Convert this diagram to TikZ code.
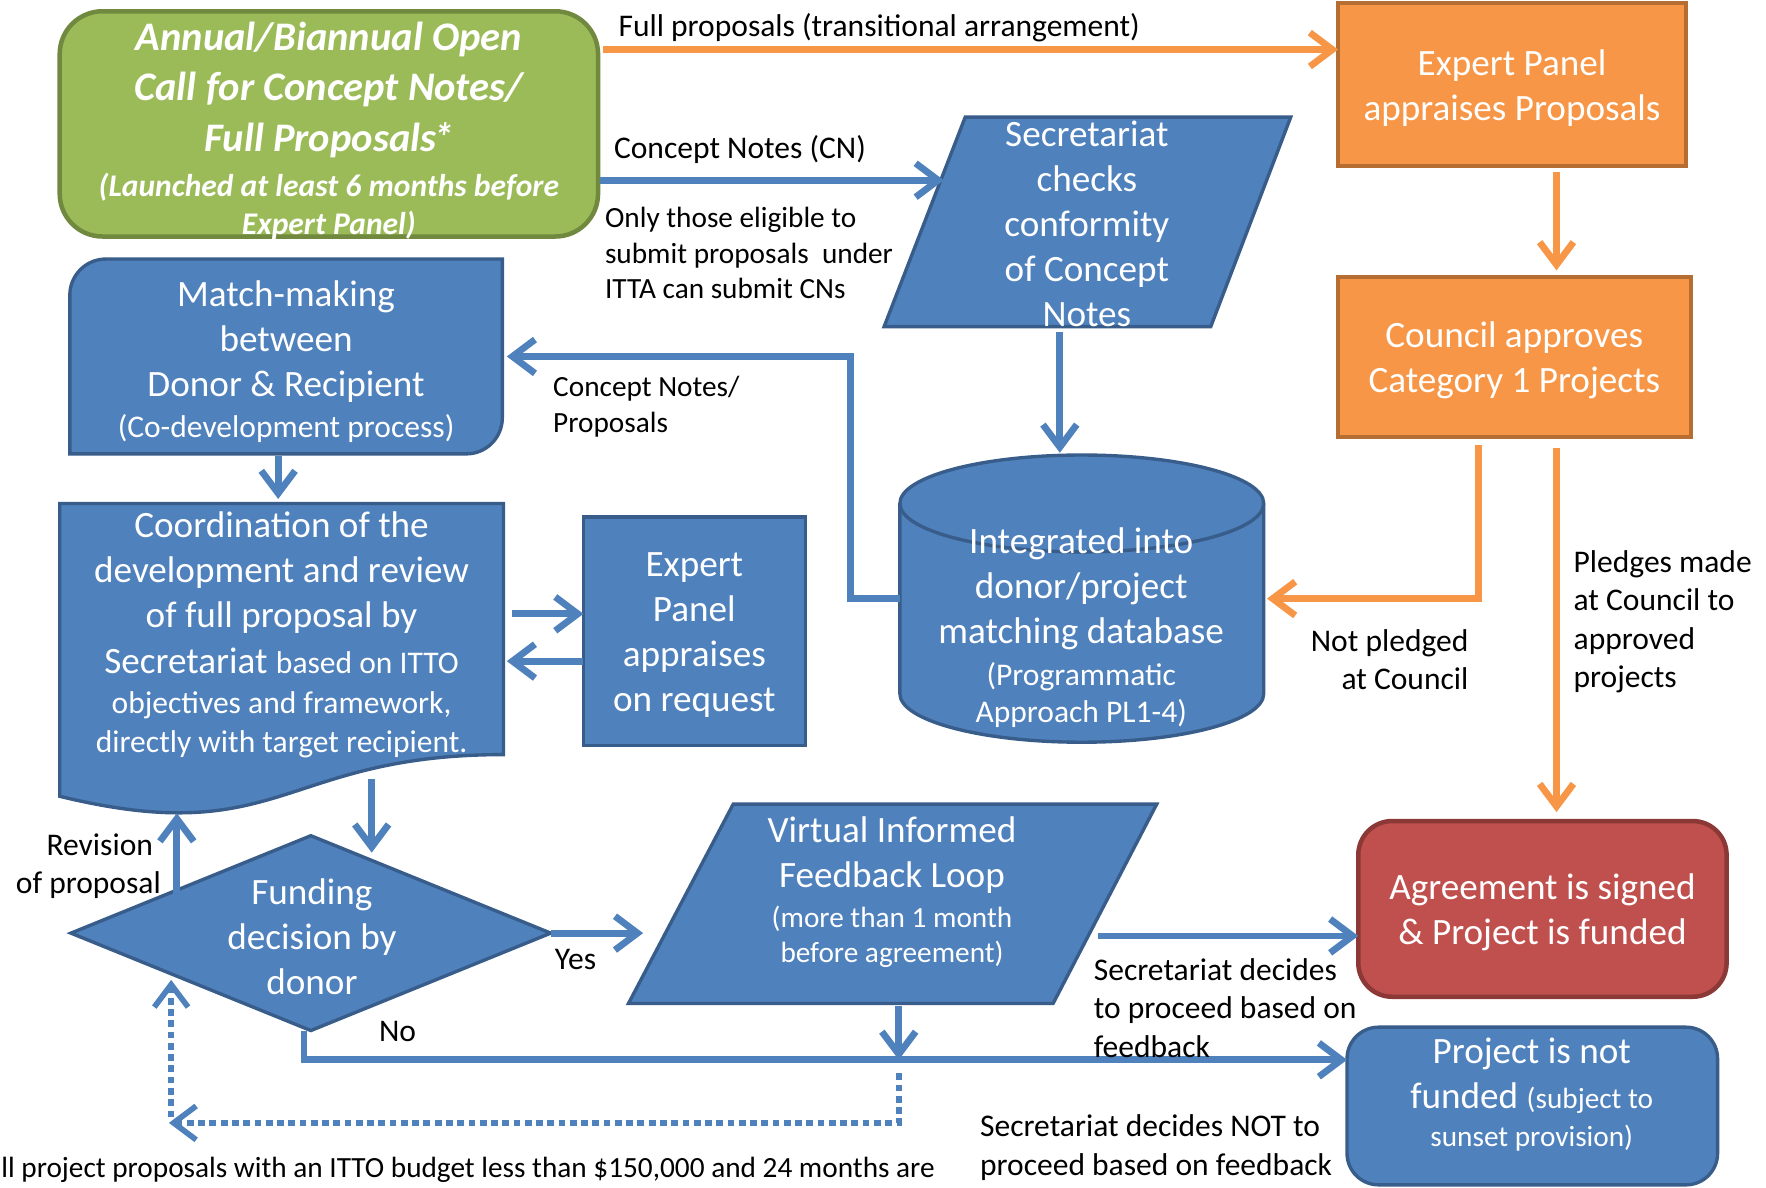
\documentclass[tikz,border=0pt]{standalone}
\usepackage{fontspec}
\setmainfont{Carlito}
\usetikzlibrary{arrows.meta,shapes.geometric}
\newcommand\myfs[2]{\fontsize{#1pt}{#2pt}\selectfont}
\definecolor{cblue}{HTML}{4F81BD}
\definecolor{cblueD}{HTML}{385D8A}
\definecolor{corange}{HTML}{F79646}
\definecolor{corangeD}{HTML}{B66D31}
\definecolor{cgreen}{HTML}{9BBB59}
\definecolor{cgreenD}{HTML}{71893F}
\definecolor{cred}{HTML}{C0504D}
\definecolor{credD}{HTML}{8C3836}
\begin{document}
\begin{tikzpicture}[x=1pt,y=-1pt,
  bshape/.style={fill=cblue,draw=cblueD,line width=3pt},
  oshape/.style={fill=corange,draw=corangeD,line width=3.5pt},
  gshape/.style={fill=cgreen,draw=cgreenD,line width=4pt},
  rshape/.style={fill=cred,draw=credD,line width=4pt},
  wtext/.style={text=white,align=center,font=\myfs{33}{40},inner sep=0pt,yshift=-3pt},
  ltext/.style={text=black,font=\myfs{28}{34},inner sep=0pt,yshift=-2pt},
  ghost/.style={inner sep=0pt,outer sep=0pt},
  barrow/.style={draw=cblue,line width=6pt,-{Straight Barb[length=20pt,width=30pt]}},
  oarrow/.style={draw=corange,line width=6pt,-{Straight Barb[length=20pt,width=30pt]}},
  dotarrow/.style={draw=cblue,line width=5pt,dash pattern=on 6pt off 4pt,-{Straight Barb[length=20pt,width=30pt]}}
]
\useasboundingbox[fill=white] (0,0) rectangle (1568,1054);

% ---------- shapes ----------
\node[gshape,rounded corners=38pt,minimum width=478pt,minimum height=200pt,ghost] (call) at (292,110) {};
\node[wtext,font=\bfseries\itshape\myfs{36}{45}] (callT) at (292,113)
  {Annual/Biannual Open\\Call for Concept Notes/\\Full Proposals\kern-3pt*\\[-5pt]{\myfs{28}{34}(Launched at least 6 months before}\\[-11pt]{\myfs{28}{34}Expert Panel)}};

\node[oshape,minimum width=309pt,minimum height=144pt,ghost] (ep) at (1342.5,75) {};
\node[wtext] (epT) at (1342.5,75) {Expert Panel\\appraises Proposals};
\node[oshape,minimum width=313pt,minimum height=142pt,ghost] (co) at (1344.5,317) {};
\node[wtext] (coT) at (1344.5,317) {Council approves\\Category 1 Projects};
\node[rshape,rounded corners=30pt,minimum width=327pt,minimum height=156pt,ghost] (ag) at (1369.5,807) {};
\node[wtext] (agT) at (1369.5,807) {Agreement is signed\\\& Project is funded};
\node[bshape,rounded corners=28pt,minimum width=329pt,minimum height=140pt,ghost] (pnf) at (1360.5,982) {};
\node[wtext] (pnfT) at (1360,969) {Project is not\\funded {\myfs{26}{32}(subject to}\\[-6pt]{\myfs{26}{32}sunset provision)}};

% secretariat parallelogram
\draw[bshape] (857,104) -- (1146,104) -- (1075,290) -- (785,290) -- cycle;
\node[ghost,minimum width=361pt,minimum height=186pt] (sec) at (965.5,197) {};
\node[wtext] (secT) at (965,196) {Secretariat\\checks\\conformity\\of Concept\\Notes};

% match-making
\draw[bshape] (62,403) -- (62,262) arc[start angle=180,end angle=90,radius=32pt] -- (446,230) -- (446,371) arc[start angle=0,end angle=-90,radius=32pt] -- cycle;
\node[ghost,minimum width=384pt,minimum height=173pt] (mm) at (254,316.5) {};
\node[wtext] (mmT) at (254,318) {Match-making\\between\\Donor \& Recipient\\[-3pt]{\myfs{28}{34}(Co-development process)}};

% database cylinder
\draw[bshape] (799,447) -- (799,616) arc[start angle=180,end angle=360,x radius=161.5pt,y radius=43pt] -- (1122,447) arc[start angle=0,end angle=180,x radius=161.5pt,y radius=43pt] -- cycle;
\draw[bshape,fill=none] (799,447) arc[start angle=180,end angle=360,x radius=161.5pt,y radius=43pt];
\node[ghost,minimum width=323pt,minimum height=255pt] (db) at (960.5,531.5) {};
\node[wtext] (dbT) at (960,554) {Integrated into\\donor/project\\matching database\\[-3pt]{\myfs{28}{34}(Programmatic}\\[-7pt]{\myfs{28}{34}Approach PL1-4)}};

% document shape
\draw[bshape] (53,447) -- (447,447) -- (447,670) .. controls (250,670) and (250,755) .. (53,707) -- cycle;
\node[ghost,minimum width=394pt,minimum height=273pt] (doc) at (250,583.5) {};
\node[wtext] (docT) at (250,561) {Coordination of the\\development and review\\of full proposal by\\Secretariat {\myfs{28}{34}based on ITTO}\\[-4pt]{\myfs{28}{34}objectives and framework,}\\[-5pt]{\myfs{28}{34}directly with target recipient.}};

\node[bshape,minimum width=197pt,minimum height=203pt,ghost] (epr) at (616.5,560.5) {};
\node[wtext] (eprT) at (616.5,560.5) {Expert\\Panel\\appraises\\on request};

% diamond
\node[bshape,diamond,minimum width=426pt,minimum height=173pt,ghost] (dec) at (276,828.5) {};
\node[wtext] (decT) at (277,829) {Funding\\decision by\\donor};

% virtual feedback parallelogram
\draw[bshape] (651,714) -- (1027,714) -- (935,891) -- (558,891) -- cycle;
\node[ghost,minimum width=469pt,minimum height=177pt] (vfl) at (792.5,802.5) {};
\node[wtext] (vflT) at (792,789) {Virtual Informed\\Feedback Loop\\[-5pt]{\myfs{26}{32}(more than 1 month}\\[-9pt]{\myfs{26}{32}before agreement)}};

% ---------- coordinates ----------
\coordinate (cn1) at ([xshift=2pt,yshift=-50pt]call.east);
\coordinate (cn2) at (838,160);
\coordinate (j1) at (755,316.5);
\coordinate (d1) at ([xshift=8pt,yshift=38.5pt]doc.east);
\coordinate (e1) at ([yshift=-26.5pt]epr.west);
\coordinate (dd1) at (330,692);
\coordinate (dd2) at (330,757);
\coordinate (rv1) at (157,795);
\coordinate (rv2) at (157,722);
\coordinate (ys) at (571,828.5);
\coordinate (vr) at (975,831);
\coordinate (pn1) at ([yshift=41pt]pnf.west);
\coordinate (vj) at (798,941);
\coordinate (dt1) at (798,953);
\coordinate (dt2) at (150,997);
\coordinate (dt3) at (152,992);
\coordinate (dt4) at (152,870);

% ---------- connectors ----------
\draw[oarrow] ([xshift=4pt,yshift=-34pt]call.north east) -- ([yshift=-34pt]call.north east -| ep.west);
\draw[oarrow] ([xshift=39.5pt,yshift=-6pt]ep.south) -- ([xshift=37.5pt,yshift=6pt]co.north);
\draw[oarrow] ([xshift=-31.5pt,yshift=-7pt]co.south) |- ([xshift=3pt]db.east);
\draw[oarrow] ([xshift=37.5pt,yshift=-10pt]co.south) -- ([xshift=12.5pt,yshift=8pt]ag.north);

\draw[barrow] (cn1) -- (cn2);
\draw[barrow] ([xshift=-24.5pt,yshift=-5pt]sec.south) -- ([xshift=-19.5pt,yshift=2pt]db.north);
\draw[barrow] (db.west) -| (j1) -- ([xshift=4pt]mm.east);
\draw[barrow] ([xshift=-7pt,yshift=-2pt]mm.south) -- ([xshift=-3pt,yshift=4pt]doc.north);
\draw[barrow] (d1) -- (d1 -| epr.west);
\draw[barrow] (e1) -- ([xshift=3pt,yshift=-3.5pt]doc.east);
\draw[barrow] (dd1) -- (dd2);
\draw[barrow] (rv1) -- (rv2);
\draw[barrow] (dec.east) -- (ys);
\draw[barrow] (vr) -- (vr -| ag.west);
\draw[barrow] ([xshift=-6pt]dec.south) |- (pn1);
\draw[barrow] ([xshift=5.5pt,yshift=-2pt]vfl.south) -- (vj);
\draw[dotarrow] (dt1) |- (dt2);
\draw[dotarrow] (dt3) -- (dt4);

% ---------- labels ----------
\node[ltext,anchor=west] (l1) at (549,23) {Full proposals (transitional arrangement)};
\node[ltext,anchor=west] (l2) at (545,131) {Concept Notes (CN)};
\node[ltext,anchor=west,align=left,font=\myfs{26}{31.5}] (l3) at (537,223) {Only those eligible to\\submit proposals\ \ under\\ITTA can submit CNs};
\node[ltext,anchor=west,align=left,font=\myfs{26}{32}] (l4) at (491,359) {Concept Notes/\\Proposals};
\node[ltext,anchor=east,align=right] (l5) at (1304,584) {Not pledged\\at Council};
\node[ltext,anchor=west,align=left] (l6) at (1397,550) {Pledges made\\at Council to\\approved\\projects};
\node[ltext,anchor=west,align=left] (l7) at (971,893) {Secretariat decides\\to proceed based on\\feedback};
\node[ltext,anchor=west,align=left] (l8) at (870,1017) {Secretariat decides NOT to\\proceed based on feedback};
\node[ltext,anchor=east,align=right] (l9) at (143,767) {Revision\hspace*{7pt}\\of proposal};
\node[ltext] (l10) at (511,850) {Yes};
\node[ltext] (l11) at (353,914) {No};
\node[ltext,anchor=west,font=\myfs{26}{32}] (l12) at (1,1037) {ll project proposals with an ITTO budget less than \$150,000 and 24 months are};
\end{tikzpicture}
\end{document}
